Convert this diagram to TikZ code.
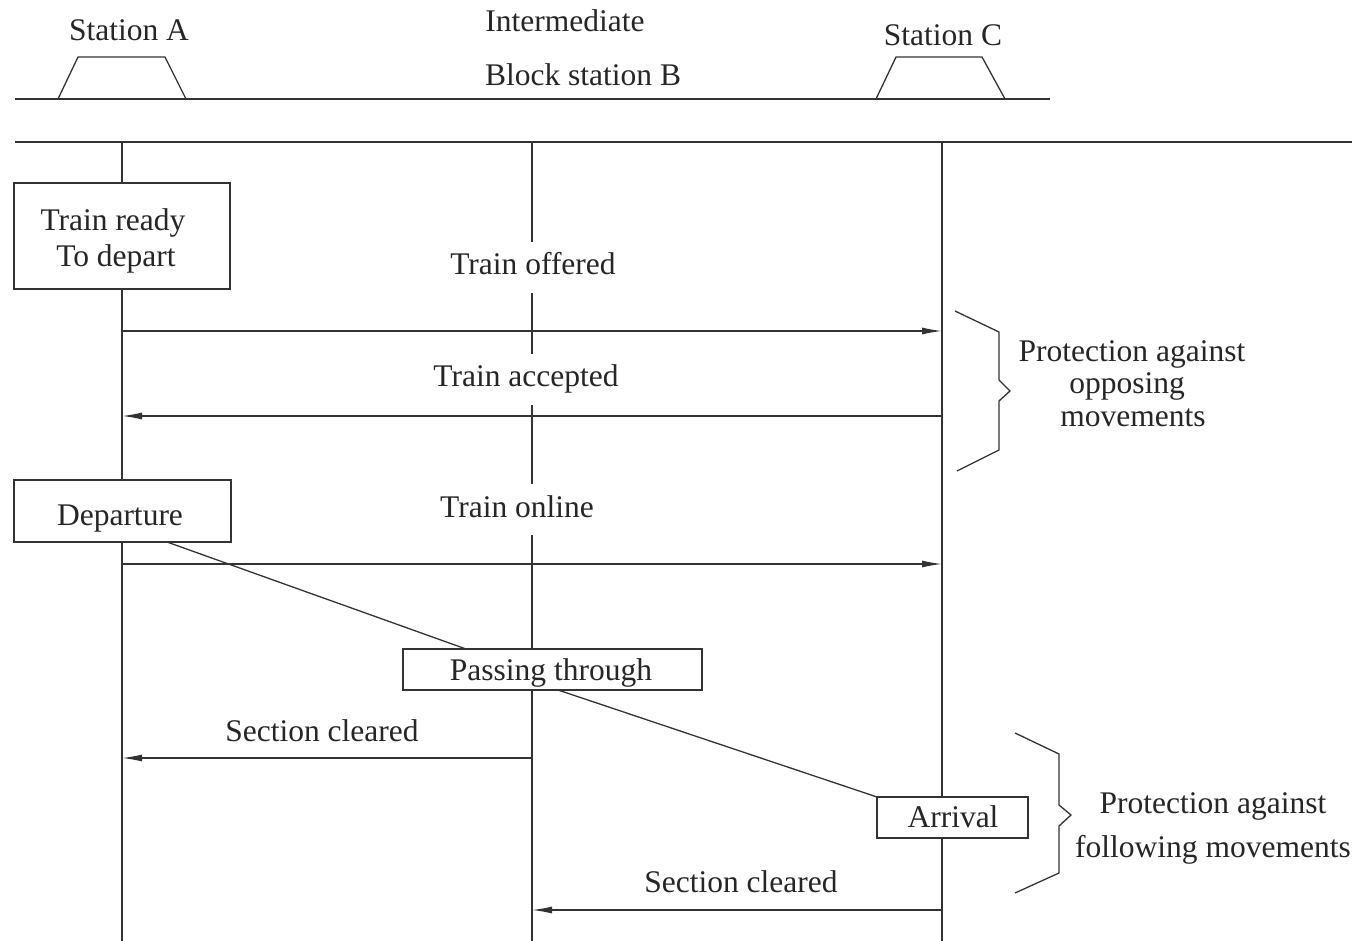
\documentclass[tikz,border=0pt]{standalone}
\usepackage{fontspec}
\setmainfont{Liberation Serif}
\usetikzlibrary{arrows.meta}
\begin{document}
\begin{tikzpicture}[x=1pt,y=-1pt,
  ln/.style={line width=1.3pt, draw=black!80},
  msg/.style={ln, -{Latex[length=20pt,width=7pt]}},
  boxn/.style={ln, fill=white, inner sep=0pt, outer sep=0pt},
  txt/.style={font=\fontsize{31.5}{36}\selectfont, text=black!85, inner sep=0pt, anchor=base},
  txtw/.style={txt, fill=white, inner xsep=4pt, inner ysep=11pt, text depth=7pt}
]
\useasboundingbox (0,0) rectangle (1358,941);

% track lines
\coordinate (r1a) at (15,99);  \coordinate (r1b) at (1050,99);
\coordinate (r2a) at (15,142); \coordinate (r2b) at (1352,142);
\draw[ln] (r1a) -- (r1b);
\draw[ln] (r2a) -- (r2b);

% platforms
\draw[ln] (58,99) -- (78,57) -- (165,57) -- (186,99);
\draw[ln] (876,99) -- (896,57) -- (982,57) -- (1005,99);

% station labels
\node[txt] (stA) at (129,41) {Station A};
\node[txt] (stC) at (943,46) {Station C};
\node[txt] (stB1) at (565,32) {Intermediate};
\node[txt] (stB2) at (583,86) {Block station B};

% lifelines
\coordinate (A0) at (122,142); \coordinate (A1) at (122,941);
\coordinate (B0) at (532,142); \coordinate (B1) at (532,941);
\coordinate (C0) at (942,142); \coordinate (C1) at (942,941);
\draw[ln] (A0) -- (A1);
\draw[ln] (B0) -- (B1);
\draw[ln] (C0) -- (C1);

% boxes
\node[boxn, minimum width=216pt, minimum height=106pt] (ready) at (122,236) {};
\node[txt] (readyt1) at (113,231) {Train ready};
\node[txt] (readyt2) at (116,267) {To depart};

\node[boxn, minimum width=217pt, minimum height=62pt] (dep) at (122.5,511) {};
\node[txt] (dept) at (120,525) {Departure};

\node[boxn, minimum width=299pt, minimum height=41pt] (pass) at (552.5,669.5) {};
\node[txt] (passt) at (551,680) {Passing through};

\node[boxn, minimum width=151pt, minimum height=41pt] (arr) at (952.5,817.5) {};
\node[txt] (arrt) at (953,827) {Arrival};

% messages
\node[txtw] (off) at (533,275) {Train offered};
\coordinate (m1a) at (122,331); \coordinate (m1c) at (942,331);
\draw[msg] (m1a) -- (m1c);

\node[txtw] (acc) at (526,387) {Train accepted};
\coordinate (m2c) at (942,416); \coordinate (m2a) at (122,416);
\draw[msg] (m2c) -- (m2a);

\node[txtw] (onl) at (517,517) {Train online};
\coordinate (m3a) at (122,564); \coordinate (m3c) at (942,564);
\draw[msg] (m3a) -- (m3c);

\node[txt] (sc1) at (322,741) {Section cleared};
\coordinate (m4b) at (532,758); \coordinate (m4a) at (122,758);
\draw[msg] (m4b) -- (m4a);

\node[txt] (sc2) at (741,892) {Section cleared};
\coordinate (m5c) at (942,910); \coordinate (m5b) at (532,910);
\draw[msg] (m5c) -- (m5b);

% train path
\coordinate (d1) at (167,542);
\coordinate (p1) at (466,649);
\coordinate (p2) at (558,690);
\draw[ln] (d1) -- (p1);
\draw[ln] (p2) -- (arr.north west);

% braces
\draw[ln] (955,311) -- (999,332) -- (999,380) -- (1010,391) -- (999,401) -- (999,450) -- (957,471);
\draw[ln] (1015,733) -- (1059,754) -- (1059,805) -- (1071,815) -- (1059,826) -- (1059,873) -- (1015,893);

\node[txt] (pr1) at (1132,362) {Protection against};
\node[txt] (pr2) at (1127,394) {opposing};
\node[txt] (pr3) at (1133,426) {movements};

\node[txt] (pf1) at (1213,813) {Protection against};
\node[txt] (pf2) at (1213,857) {following movements};
\end{tikzpicture}
\end{document}
